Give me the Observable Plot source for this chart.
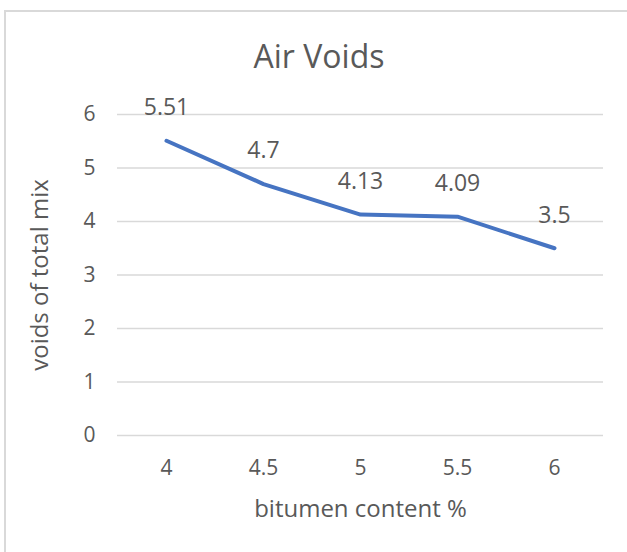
<!DOCTYPE html>
<html>
<head>
<meta charset="utf-8">
<script src="https://cdn.jsdelivr.net/npm/d3@7"></script>
<script src="https://cdn.jsdelivr.net/npm/@observablehq/plot@0.6"></script>
<style>
  html, body { margin: 0; padding: 0; background: #fff; }
  #wrap { position: relative; width: 627px; height: 552px; overflow: hidden; font-family: "Open Sans", sans-serif; }
  #border { position: absolute; left: 4px; top: 10px; width: 700px; height: 700px; border-left: 2px solid #d9d9d9; border-top: 2px solid #d9d9d9; box-sizing: border-box; }
  #title { position: absolute; left: 0; top: 33px; width: 638px; text-align: center; font-size: 32px; color: #595959; line-height: 46px; }
  #chart { position: absolute; left: 0; top: 0; }
</style>
</head>
<body>
<div id="wrap">
  <div id="border"></div>
  <div id="chart"></div>
  <div id="title">Air Voids</div>
</div>
<script>
const bitumen = ["4", "4.5", "5", "5.5", "6"];
const voids = [5.51, 4.7, 4.13, 4.09, 3.5];
const yTicks = [0, 1, 2, 3, 4, 5, 6];
const xTitle = "bitumen content %";
const yTitle = "voids of total mix";

const data = bitumen.map((b, i) => ({ b, v: voids[i] }));
const gray = "#595959";

const chart = Plot.plot({
  width: 627,
  height: 552,
  marginLeft: 117,
  marginRight: 24,
  marginTop: 114,
  marginBottom: 117,
  style: { fontFamily: "Open Sans, sans-serif", fontSize: "21px", color: gray, background: "transparent" },
  x: { type: "point", domain: bitumen, padding: 0.5 },
  y: { domain: [0, 6] },
  marks: [
    Plot.gridY(yTicks, { stroke: "#d9d9d9", strokeOpacity: 1, strokeWidth: 1.3 }),
    Plot.axisY(yTicks, { tickSize: 0, tickPadding: 22, label: null, tickFormat: d => String(d), fill: gray, fontSize: 21 }),
    Plot.axisX({ tickSize: 0, tickPadding: 25, label: null, fill: gray, fontSize: 21 }),
    Plot.line(data, { x: "b", y: "v", stroke: "#4674C2", strokeWidth: 4, strokeLinecap: "round", strokeLinejoin: "round" }),
    Plot.text(data, { x: "b", y: "v", text: d => String(d.v), dy: -33, fill: gray, fontSize: 23 }),
    Plot.text([xTitle], { frameAnchor: "bottom", dy: 81, fill: gray, fontSize: 24 }),
    Plot.text([yTitle], { frameAnchor: "left", textAnchor: "middle", dx: -77, rotate: -90, fill: gray, fontSize: 24 })
  ]
});
document.getElementById("chart").appendChild(chart);
</script>
</body>
</html>
